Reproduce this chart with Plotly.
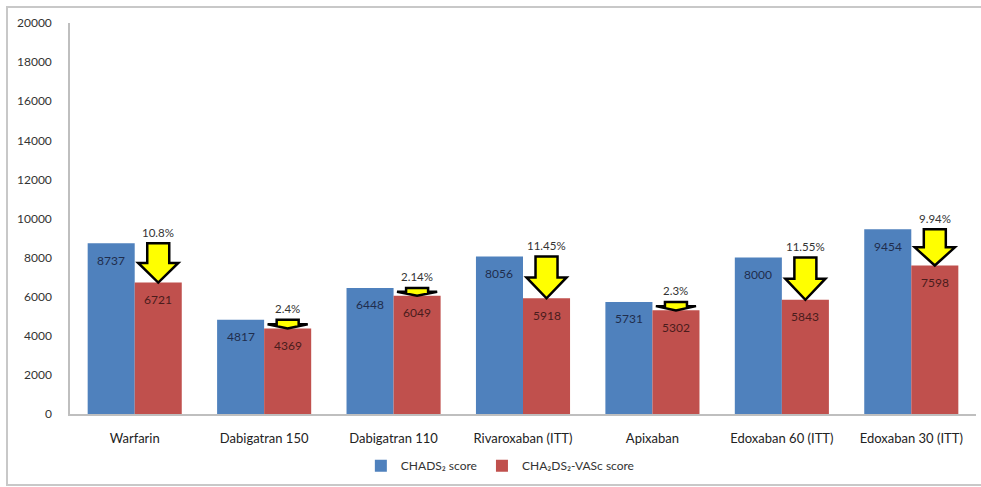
import plotly.graph_objects as go

categories = ["Warfarin", "Dabigatran 150", "Dabigatran 110", "Rivaroxaban (ITT)",
              "Apixaban", "Edoxaban 60 (ITT)", "Edoxaban 30 (ITT)"]
chads2 = [8737, 4817, 6448, 8056, 5731, 8000, 9454]
cha2ds2vasc = [6721, 4369, 6049, 5918, 5302, 5843, 7598]
reduction_labels = ["10.8%", "2.4%", "2.14%", "11.45%", "2.3%", "11.55%", "9.94%"]
y_ticks = list(range(0, 20001, 2000))
y_tick_text = [str(v) for v in y_ticks]

BLUE = "#4F81BD"
RED = "#C0504D"
FONT = "Lato"

xs = list(range(len(categories)))
bargap = 0.273
bar_w = (1 - bargap) / 2
red_off = bar_w / 2

fig = go.Figure()
fig.add_trace(go.Bar(x=xs, y=chads2, name="CHADS₂ score", marker_color=BLUE,
                     marker_line_width=0))
fig.add_trace(go.Bar(x=xs, y=cha2ds2vasc, name="CHA₂DS₂-VASc score", marker_color=RED,
                     marker_line_width=0))

shapes = []
annotations = []
head_hw = 0.155
shaft_hw = 0.085
for i, (b, r, lab) in enumerate(zip(chads2, cha2ds2vasc, reduction_labels)):
    xc = i + red_off
    mid = r + (b - r) * 0.5
    path = (f"M {xc - shaft_hw},{b} L {xc + shaft_hw},{b} L {xc + shaft_hw},{mid} "
            f"L {xc + head_hw},{mid} L {xc},{r} L {xc - head_hw},{mid} "
            f"L {xc - shaft_hw},{mid} Z")
    shapes.append(dict(type="path", xref="x", yref="y", path=path,
                       fillcolor="#FFFF00", line=dict(color="black", width=2.5)))
    annotations.append(dict(x=xc, y=b, text=lab, showarrow=False, yshift=11,
                            font=dict(family=FONT, size=11.5, color="#333333")))
    annotations.append(dict(x=i - red_off, y=b, text=str(b), showarrow=False, yshift=-17,
                            font=dict(family=FONT, size=12, color="#1f2d4d")))
    annotations.append(dict(x=xc, y=r, text=str(r), showarrow=False, yshift=-17,
                            font=dict(family=FONT, size=12, color="#4a1c1c")))

# outer border (light grey frame of the original image)
W = 906.0
H = 391.0
def px(v):
    return (v - 70) / W
def py(v):
    return (414 - v) / H
shapes.append(dict(type="rect", xref="paper", yref="paper", x0=px(7), x1=px(995),
                   y0=py(485), y1=py(7), line=dict(color="#c8c8c8", width=2),
                   fillcolor="rgba(0,0,0,0)", layer="above"))

fig.update_layout(
    width=981, height=487,
    margin=dict(l=70, r=5, t=23, b=73, autoexpand=False),
    paper_bgcolor="white", plot_bgcolor="white",
    barmode="group", bargap=bargap, bargroupgap=0,
    shapes=shapes, annotations=annotations,
    legend=dict(orientation="h", x=0.475, xanchor="center", y=-0.095, yanchor="top",
                font=dict(family=FONT, size=12, color="#333333"),
                traceorder="normal", itemwidth=30, entrywidthmode="pixels"),
    xaxis=dict(tickvals=xs, ticktext=categories, range=[-0.5, len(categories) - 0.5],
               showline=True, linecolor="#bfbfbf", linewidth=1.5, showgrid=False,
               ticks="", tickfont=dict(family=FONT, size=13, color="#222222"),
               zeroline=False, automargin=False, ticklabelstandoff=12),
    yaxis=dict(range=[0, 20000], tickvals=y_ticks, ticktext=y_tick_text, showline=True,
               linecolor="#bfbfbf", linewidth=1.5, showgrid=False, zeroline=False,
               ticks="", tickfont=dict(family=FONT, size=12, color="#333333"),
               ticklabelstandoff=14, automargin=False),
    showlegend=True,
)

fig.write_html("out.html", config={"displayModeBar": False},
               post_script="document.body.style.margin='0';document.body.style.overflow='hidden';")
